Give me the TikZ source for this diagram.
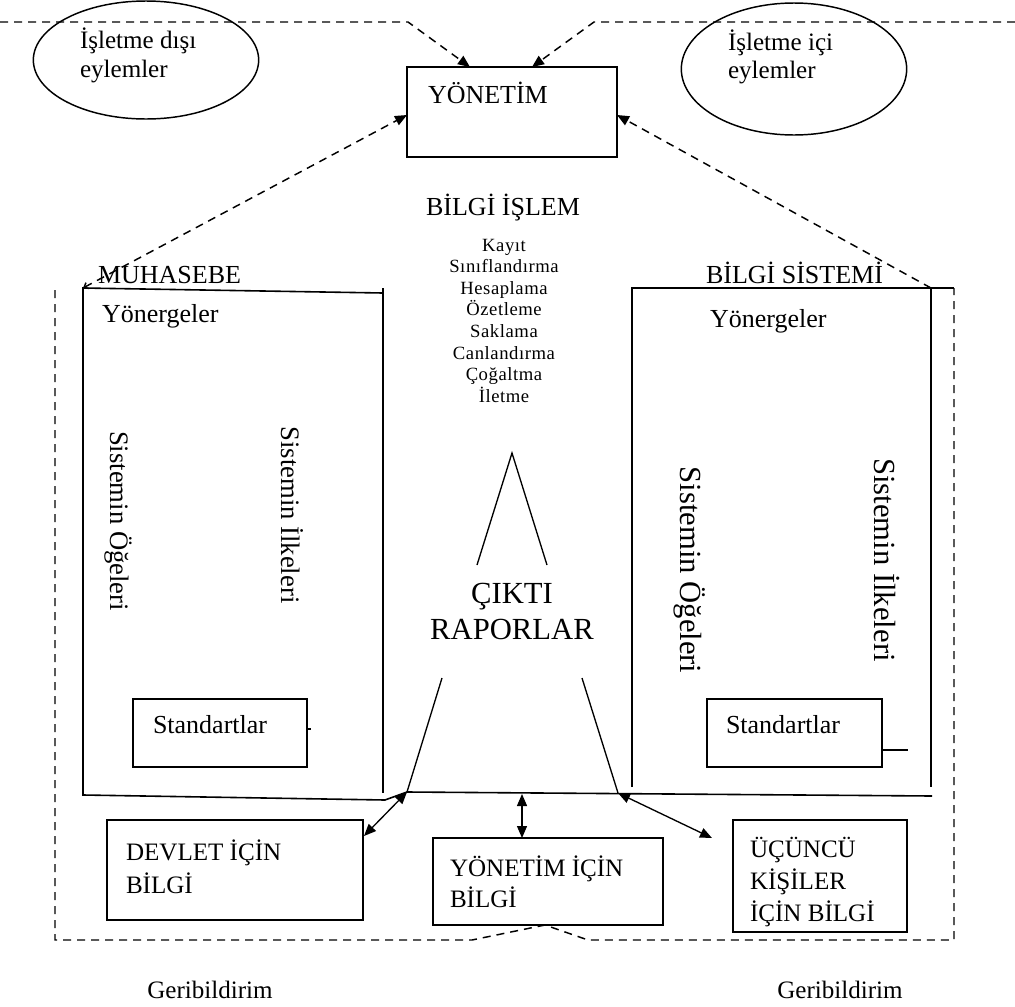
\documentclass[tikz,border=0pt]{standalone}
\usepackage{fontspec}
\setmainfont{Liberation Serif}
\newfontfamily\listfont[LetterSpace=3]{Liberation Serif}
\usetikzlibrary{arrows.meta,shapes.geometric,fit}
\begin{document}
\begin{tikzpicture}[x=0.75pt,y=-0.75pt,
  every node/.style={inner sep=0pt, outer sep=0pt},
  boxline/.style={draw, line width=1.2pt},
  thinline/.style={draw, line width=1pt},
  dashline/.style={draw, line width=1.1pt, dash pattern=on 6pt off 4.5pt},
  bigtxt/.style={anchor=base west, font=\fontsize{19.5}{23}\selectfont},
  midtxt/.style={anchor=base west, font=\fontsize{18.8}{23}\selectfont},
  vtxt/.style={rotate=-90, font=\fontsize{20}{24}\selectfont},
  vtxtb/.style={rotate=-90, font=\fontsize{23}{27}\selectfont},
  listtxt/.style={anchor=base, font=\listfont\fontsize{14}{16}\selectfont},
  >={Triangle[length=9pt,width=7.5pt]}
]
\useasboundingbox (0,0) rectangle (1015,1007);

% ---------- ellipses ----------
\node[ellipse, draw, line width=1.1pt, minimum width=169pt, minimum height=88.5pt] (e1) at (146,60) {};
\node[ellipse, draw, line width=1.1pt, minimum width=169pt, minimum height=99pt] (e2) at (794,69) {};
\node[midtxt] (e1a) at (80,48) {İşletme dışı};
\node[midtxt] (e1b) at (80,77) {eylemler};
\node[midtxt] (e2a) at (728,50) {İşletme içi};
\node[midtxt] (e2b) at (728,78) {eylemler};

% ---------- YÖNETİM ----------
\coordinate (y1) at (407,67);
\coordinate (y2) at (617,157);
\node[boxline, fit=(y1)(y2)] (yon) {};
\node[bigtxt] (yont) at (428,103) {YÖNETİM};
\coordinate (ya) at (470,67);
\coordinate (yb) at (532,67);
\coordinate (yl) at (407,115);
\coordinate (yr) at (617,115);

% top dashed lines
\coordinate (tl0) at (0,22);
\coordinate (tl1) at (408,22);
\coordinate (tr0) at (1015,22);
\coordinate (tr1) at (594,22);
\draw[dashline,->] (tl0) -- (tl1) -- (ya);
\draw[dashline,->] (tr0) -- (tr1) -- (yb);

% ---------- BİLGİ İŞLEM ----------
\node[anchor=base, font=\fontsize{19.5}{23}\selectfont] (bi) at (503,215) {BİLGİ İŞLEM};
\foreach \w [count=\i] in {Kayıt,Sınıflandırma,Hesaplama,Özetleme,Saklama,Canlandırma,Çoğaltma,İletme}
  \node[listtxt] (li\i) at (504,{251+(\i-1)*21.6}) {\w};

% ---------- MUHASEBE box ----------
\coordinate (m1) at (83,288);
\coordinate (m2) at (383,293);
\coordinate (m2t) at (383,288);
\coordinate (m3) at (383,793);
\coordinate (m4) at (83,795);
\coordinate (m5) at (385,800);
\coordinate (m6) at (407,792);
\coordinate (h2) at (932,796);
\draw[boxline] (m2) -- (m1) -- (m4) -- (m5) -- (m6) -- (h2);
\draw[boxline] (m2t) -- (m3);
\node[bigtxt] (mu) at (98,283) {MUHASEBE};
\node[bigtxt] (yo1) at (102,322) {Yönergeler};
\node[vtxt] (vo1) at (118,521) {Sistemin Öğeleri};
\node[vtxt] (vi1) at (292,515) {Sistemin İlkeleri};

% ---------- BİLGİ SİSTEMİ box ----------
\coordinate (b1) at (632,288);
\coordinate (b2) at (931,288);
\coordinate (b3) at (954,288);
\coordinate (b4) at (632,787);
\coordinate (b5) at (931,787);
\draw[boxline] (b4) -- (b1) -- (b3);
\draw[boxline] (b2) -- (b5);
\node[bigtxt] (bs) at (706,283) {BİLGİ SİSTEMİ};
\node[bigtxt] (yo2) at (710,327) {Yönergeler};
\node[vtxtb] (vo2) at (690,570) {Sistemin Öğeleri};
\node[vtxtb] (vi2) at (887,560) {Sistemin İlkeleri};

% dashed links to YÖNETİM
\draw[dashline,{Straight Barb[length=3pt,width=5pt]}->] (m1) -- (yl);
\draw[dashline,->] (b2) -- (yr);

% outer dashed frame
\coordinate (o1) at (55,290);
\coordinate (o2) at (55,940);
\coordinate (o3) at (472,940);
\coordinate (o4) at (545,925);
\coordinate (o5) at (588,940);
\coordinate (o6) at (954,940);
\coordinate (o7) at (954,288);
\draw[dashline] (o1) -- (o2) -- (o3) -- (o4) -- (o5) -- (o6) -- (o7);

% ---------- Standartlar ----------
\coordinate (s1) at (133,699);
\coordinate (s2) at (307,767);
\node[boxline, fit=(s1)(s2)] (stl) {};
\node[bigtxt] (stlt) at (153,733) {Standartlar};
\coordinate (st1) at (307,729);
\coordinate (st2) at (311,729);
\draw[thinline] (st1) -- (st2);
\coordinate (r1) at (707,699);
\coordinate (r2) at (882,767);
\node[boxline, fit=(r1)(r2)] (str) {};
\node[bigtxt] (strt) at (726,733) {Standartlar};
\coordinate (rt1) at (882,750);
\coordinate (rt2) at (908,750);
\draw[thinline] (rt1) -- (rt2);

% ---------- triangle / ÇIKTI ----------
\coordinate (t0) at (512,453);
\coordinate (t1) at (477,565);
\coordinate (t2) at (547,565);
\draw[thinline] (t1) -- (t0) -- (t2);
\node[anchor=base, font=\fontsize{23}{27}\selectfont] (ck1) at (512,603) {ÇIKTI};
\node[anchor=base, font=\fontsize{23}{27}\selectfont] (ck2) at (512,639) {RAPORLAR};
\coordinate (k1) at (442,678);
\coordinate (k2) at (582,678);
\coordinate (k3) at (618,793);
\draw[thinline] (k1) -- (m6);
\draw[thinline] (k2) -- (k3);

% ---------- bottom boxes ----------
\coordinate (d1) at (107,820);
\coordinate (d2) at (363,920);
\node[boxline, fit=(d1)(d2)] (dev) {};
\node[midtxt] (devt1) at (126,860) {DEVLET İÇİN};
\node[midtxt] (devt2) at (126,893) {BİLGİ};

\coordinate (g1) at (433,838);
\coordinate (g2) at (663,925);
\node[boxline, fit=(g1)(g2)] (yib) {};
\node[midtxt] (yibt1) at (450,876) {YÖNETİM İÇİN};
\node[midtxt] (yibt2) at (450,907) {BİLGİ};

\coordinate (u1) at (733,820);
\coordinate (u2) at (907,932);
\node[boxline, fit=(u1)(u2)] (ucb) {};
\node[midtxt] (ucbt1) at (750,857) {ÜÇÜNCÜ};
\node[midtxt] (ucbt2) at (750,889) {KİŞİLER};
\node[midtxt] (ucbt3) at (750,921) {İÇİN BİLGİ};

% bottom arrows
\coordinate (dv) at (364,836);
\coordinate (mm1) at (522,794);
\coordinate (uc) at (712,838);
\draw[thinline,<->] (m6) -- (dv);
\draw[thinline,<->] (mm1) -- (yib.north -| mm1);
\draw[thinline,<->] (k3) -- (uc);

% feedback
\node[anchor=base, font=\fontsize{18.8}{23}\selectfont] (fb1) at (210,998) {Geribildirim};
\node[anchor=base, font=\fontsize{18.8}{23}\selectfont] (fb2) at (840,998) {Geribildirim};
\end{tikzpicture}
\end{document}
